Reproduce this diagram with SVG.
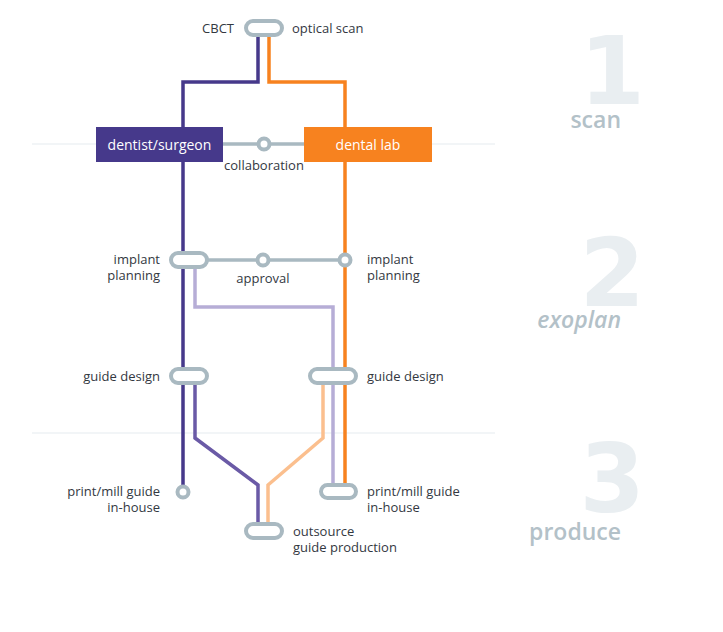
<svg xmlns="http://www.w3.org/2000/svg" width="723" height="632" viewBox="0 0 723 632">
<style>
.t{font-family:"Open Sans","Noto Sans",sans-serif;font-size:13px;font-weight:500;fill:#33383f}
.r{text-anchor:end}
.c{text-anchor:middle}
.big{font-family:"DejaVu Sans",sans-serif;font-weight:bold;font-size:94px;fill:#e9eef1;text-anchor:end}
.ph{font-family:"Open Sans","Noto Sans",sans-serif;font-size:23px;font-weight:600;fill:#b3c1c8;text-anchor:end}
.ln{fill:none;stroke-width:3.5;stroke-linejoin:miter}
.pill{fill:#fff;stroke:#a9b9c1;stroke-width:4}
.box{font-family:"Open Sans","Noto Sans",sans-serif;font-size:14px;font-weight:500;fill:#fff;text-anchor:middle}
</style>
<rect width="723" height="632" fill="#fff"/>
<g id="phases">
<line x1="32" y1="144" x2="495" y2="144" stroke="#eef2f4" stroke-width="1.5"/>
<line x1="32" y1="433" x2="495" y2="433" stroke="#eef2f4" stroke-width="1.5"/>
<text class="big" x="645" y="104">1</text>
<text class="ph" x="621" y="128">scan</text>
<text class="big" x="645" y="306">2</text>
<text class="ph" x="621" y="328" font-style="italic">exoplan</text>
<text class="big" x="645" y="512">3</text>
<text class="ph" x="621" y="540">produce</text>
</g>
<g id="connectors">
<line class="ln" x1="190" y1="144" x2="340" y2="144" stroke="#a9b9c1"/>
<line class="ln" x1="190" y1="260" x2="345" y2="260" stroke="#a9b9c1"/>
<polyline class="ln" stroke="#b6add6" points="195,260 195,307 333,307 333,491"/>
<polyline class="ln" stroke="#fbbf8e" points="323,376 323,438 268,485 268,531"/>
<polyline class="ln" stroke="#6a5aa6" points="195,376 195,438 258,485 258,531"/>
<polyline class="ln" stroke="#46398b" points="258,28 258,82 183,82 183,486"/>
<polyline class="ln" stroke="#f7821f" points="269,28 269,82 345,82 345,491"/>
</g>
<g id="scan-source">
<rect class="pill" x="246" y="21" width="36" height="14" rx="7"/>
<text class="t r" x="234" y="33">CBCT</text>
<text class="t" x="292" y="33">optical scan</text>
</g>
<g id="dentist">
<rect x="96" y="127" width="127" height="35" fill="#46398b"/>
<text class="box" x="159.5" y="150">dentist/surgeon</text>
</g>
<g id="lab">
<rect x="304" y="127" width="128" height="35" fill="#f7821f"/>
<text class="box" x="368" y="150">dental lab</text>
</g>
<g id="collaboration">
<circle class="pill" cx="264" cy="144" r="5.5"/>
<text class="t c" x="264" y="170">collaboration</text>
</g>
<g id="planning-left">
<rect class="pill" x="171" y="253" width="36" height="14" rx="7"/>
<text class="t r" x="160" y="264">implant</text>
<text class="t r" x="160" y="280">planning</text>
</g>
<g id="approval">
<circle class="pill" cx="263" cy="260" r="5.5"/>
<text class="t c" x="263" y="283">approval</text>
</g>
<g id="planning-right">
<circle class="pill" cx="345" cy="260" r="5.5"/>
<text class="t" x="367" y="264">implant</text>
<text class="t" x="367" y="280">planning</text>
</g>
<g id="design-left">
<rect class="pill" x="171" y="369" width="36" height="14" rx="7"/>
<text class="t r" x="160" y="381">guide design</text>
</g>
<g id="design-right">
<rect class="pill" x="310" y="369" width="46" height="14" rx="7"/>
<text class="t" x="367" y="381">guide design</text>
</g>
<g id="print-left">
<circle class="pill" cx="183" cy="492" r="5.5"/>
<text class="t r" x="160" y="496">print/mill guide</text>
<text class="t r" x="160" y="512">in-house</text>
</g>
<g id="print-right">
<rect class="pill" x="321" y="485" width="35" height="13" rx="6.5"/>
<text class="t" x="367" y="496">print/mill guide</text>
<text class="t" x="367" y="512">in-house</text>
</g>
<g id="outsource">
<rect class="pill" x="246" y="524" width="36" height="14" rx="7"/>
<text class="t" x="293" y="536">outsource</text>
<text class="t" x="293" y="552">guide production</text>
</g>
</svg>
